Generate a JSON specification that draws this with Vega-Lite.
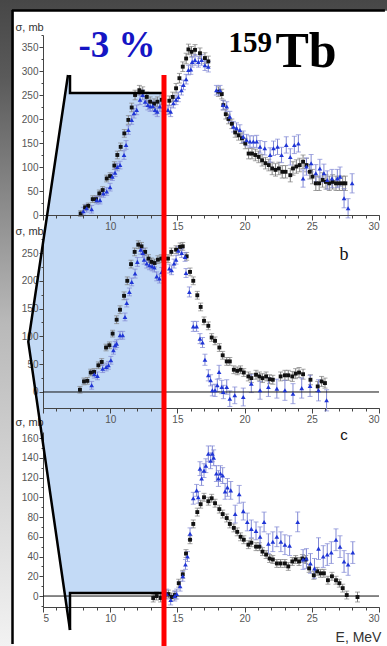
{
"$schema": "https://vega.github.io/schema/vega-lite/v6.json",
"padding": 0,
"background": "#4b4b4b",
"spacing": 24,
"bounds": "flush",
"config": {
  "view": {"stroke": null},
  "axis": {"labelFont": "Liberation Sans", "labelFontSize": 10, "labelColor": "#555", "domainColor": "#444", "tickColor": "#444", "grid": false, "titleFont": "Liberation Sans", "titleFontWeight": "normal", "titleColor": "#333", "titleFontSize": 11}
},
"datasets": {
"pts": [
{"p":1,"g":"k","E":7.8,"s":3,"e":6},{"p":1,"g":"k","E":8.13,"s":16,"e":6},{"p":1,"g":"k","E":8.37,"s":19,"e":6},{"p":1,"g":"k","E":8.7,"s":33,"e":7},{"p":1,"g":"k","E":8.95,"s":33,"e":7},{"p":1,"g":"k","E":9.19,"s":45,"e":7},{"p":1,"g":"k","E":9.44,"s":52,"e":7},{"p":1,"g":"k","E":9.74,"s":76,"e":7},{"p":1,"g":"k","E":9.99,"s":81,"e":7},{"p":1,"g":"k","E":10.31,"s":103,"e":8},{"p":1,"g":"k","E":10.53,"s":125,"e":8},{"p":1,"g":"k","E":10.78,"s":142,"e":8},{"p":1,"g":"k","E":11.05,"s":170,"e":8},{"p":1,"g":"k","E":11.35,"s":198,"e":9},{"p":1,"g":"k","E":11.6,"s":224,"e":9},{"p":1,"g":"k","E":11.85,"s":250,"e":10},{"p":1,"g":"k","E":12.17,"s":260,"e":10},{"p":1,"g":"k","E":12.42,"s":257,"e":10},{"p":1,"g":"k","E":12.72,"s":246,"e":10},{"p":1,"g":"k","E":12.97,"s":236,"e":10},{"p":1,"g":"k","E":13.26,"s":232,"e":10},{"p":1,"g":"k","E":13.51,"s":236,"e":10},{"p":1,"g":"k","E":13.83,"s":240,"e":10},{"p":1,"g":"k","E":14.4,"s":238,"e":10},{"p":1,"g":"k","E":14.65,"s":246,"e":10},{"p":1,"g":"k","E":14.9,"s":264,"e":10},{"p":1,"g":"k","E":15.15,"s":285,"e":10},{"p":1,"g":"k","E":15.4,"s":309,"e":10},{"p":1,"g":"k","E":15.65,"s":326,"e":11},{"p":1,"g":"k","E":15.82,"s":345,"e":11},{"p":1,"g":"k","E":16.05,"s":340,"e":11},{"p":1,"g":"k","E":16.31,"s":344,"e":11},{"p":1,"g":"k","E":16.68,"s":337,"e":11},{"p":1,"g":"k","E":17.05,"s":327,"e":11},{"p":1,"g":"k","E":17.3,"s":320,"e":11},{"p":1,"g":"k","E":18.05,"s":257,"e":10},{"p":1,"g":"k","E":18.3,"s":252,"e":10},{"p":1,"g":"k","E":18.42,"s":229,"e":10},{"p":1,"g":"k","E":18.6,"s":210,"e":10},{"p":1,"g":"k","E":18.8,"s":200,"e":10},{"p":1,"g":"k","E":19.05,"s":190,"e":10},{"p":1,"g":"k","E":19.3,"s":172,"e":10},{"p":1,"g":"k","E":19.55,"s":166,"e":10},{"p":1,"g":"k","E":19.8,"s":160,"e":11},{"p":1,"g":"k","E":20.05,"s":149,"e":11},{"p":1,"g":"k","E":20.3,"s":128,"e":11},{"p":1,"g":"k","E":20.55,"s":128,"e":11},{"p":1,"g":"k","E":20.8,"s":125,"e":12},{"p":1,"g":"k","E":21.05,"s":121,"e":12},{"p":1,"g":"k","E":21.3,"s":114,"e":12},{"p":1,"g":"k","E":21.55,"s":108,"e":12},{"p":1,"g":"k","E":21.8,"s":104,"e":12},{"p":1,"g":"k","E":22.05,"s":97,"e":13},{"p":1,"g":"k","E":22.3,"s":94,"e":13},{"p":1,"g":"k","E":22.55,"s":97,"e":13},{"p":1,"g":"k","E":22.8,"s":90,"e":13},{"p":1,"g":"k","E":23.05,"s":90,"e":13},{"p":1,"g":"k","E":23.4,"s":83,"e":14},{"p":1,"g":"k","E":23.6,"s":97,"e":14},{"p":1,"g":"k","E":23.85,"s":101,"e":14},{"p":1,"g":"k","E":24.1,"s":104,"e":14},{"p":1,"g":"k","E":24.35,"s":111,"e":14},{"p":1,"g":"k","E":24.6,"s":104,"e":14},{"p":1,"g":"k","E":24.85,"s":90,"e":15},{"p":1,"g":"k","E":25.05,"s":80,"e":15},{"p":1,"g":"k","E":25.3,"s":66,"e":15},{"p":1,"g":"k","E":25.55,"s":66,"e":15},{"p":1,"g":"k","E":25.8,"s":73,"e":15},{"p":1,"g":"k","E":26.05,"s":69,"e":15},{"p":1,"g":"k","E":26.3,"s":66,"e":15},{"p":1,"g":"k","E":26.55,"s":69,"e":15},{"p":1,"g":"k","E":26.8,"s":66,"e":15},{"p":1,"g":"k","E":27.05,"s":66,"e":15},{"p":1,"g":"k","E":27.3,"s":66,"e":15},{"p":1,"g":"k","E":27.5,"s":66,"e":15},
{"p":1,"g":"b","E":8.0,"s":8,"e":8},{"p":1,"g":"b","E":8.25,"s":14,"e":8},{"p":1,"g":"b","E":8.62,"s":12,"e":8},{"p":1,"g":"b","E":9.0,"s":31,"e":8},{"p":1,"g":"b","E":9.24,"s":31,"e":8},{"p":1,"g":"b","E":9.49,"s":45,"e":8},{"p":1,"g":"b","E":9.74,"s":49,"e":8},{"p":1,"g":"b","E":9.99,"s":58,"e":8},{"p":1,"g":"b","E":10.16,"s":80,"e":8},{"p":1,"g":"b","E":10.36,"s":88,"e":8},{"p":1,"g":"b","E":10.53,"s":100,"e":8},{"p":1,"g":"b","E":10.73,"s":104,"e":8},{"p":1,"g":"b","E":11.03,"s":125,"e":9},{"p":1,"g":"b","E":11.18,"s":146,"e":9},{"p":1,"g":"b","E":11.35,"s":177,"e":9},{"p":1,"g":"b","E":11.6,"s":198,"e":9},{"p":1,"g":"b","E":11.77,"s":212,"e":10},{"p":1,"g":"b","E":11.97,"s":219,"e":10},{"p":1,"g":"b","E":12.22,"s":240,"e":10},{"p":1,"g":"b","E":12.42,"s":250,"e":10},{"p":1,"g":"b","E":12.6,"s":236,"e":10},{"p":1,"g":"b","E":12.8,"s":229,"e":10},{"p":1,"g":"b","E":12.97,"s":226,"e":10},{"p":1,"g":"b","E":13.16,"s":227,"e":10},{"p":1,"g":"b","E":13.34,"s":219,"e":10},{"p":1,"g":"b","E":13.5,"s":215,"e":10},{"p":1,"g":"b","E":13.7,"s":226,"e":10},{"p":1,"g":"b","E":14.3,"s":219,"e":10},{"p":1,"g":"b","E":14.5,"s":215,"e":10},{"p":1,"g":"b","E":14.7,"s":233,"e":10},{"p":1,"g":"b","E":14.9,"s":240,"e":10},{"p":1,"g":"b","E":15.07,"s":246,"e":10},{"p":1,"g":"b","E":15.3,"s":260,"e":10},{"p":1,"g":"b","E":15.45,"s":271,"e":10},{"p":1,"g":"b","E":15.65,"s":283,"e":10},{"p":1,"g":"b","E":15.82,"s":302,"e":10},{"p":1,"g":"b","E":16.0,"s":303,"e":10},{"p":1,"g":"b","E":16.1,"s":319,"e":11},{"p":1,"g":"b","E":16.31,"s":323,"e":11},{"p":1,"g":"b","E":16.56,"s":319,"e":11},{"p":1,"g":"b","E":16.8,"s":323,"e":11},{"p":1,"g":"b","E":17.05,"s":312,"e":11},{"p":1,"g":"b","E":17.3,"s":309,"e":11},{"p":1,"g":"b","E":17.9,"s":260,"e":10},{"p":1,"g":"b","E":18.17,"s":260,"e":10},{"p":1,"g":"b","E":18.4,"s":229,"e":10},{"p":1,"g":"b","E":18.67,"s":226,"e":10},{"p":1,"g":"b","E":18.9,"s":205,"e":11},{"p":1,"g":"b","E":19.17,"s":184,"e":11},{"p":1,"g":"b","E":19.4,"s":181,"e":11},{"p":1,"g":"b","E":19.65,"s":177,"e":11},{"p":1,"g":"b","E":19.9,"s":163,"e":12},{"p":1,"g":"b","E":20.15,"s":156,"e":12},{"p":1,"g":"b","E":20.4,"s":153,"e":12},{"p":1,"g":"b","E":20.65,"s":153,"e":12},{"p":1,"g":"b","E":20.9,"s":153,"e":13},{"p":1,"g":"b","E":21.15,"s":142,"e":13},{"p":1,"g":"b","E":21.5,"s":139,"e":14},{"p":1,"g":"b","E":21.9,"s":125,"e":15},{"p":1,"g":"b","E":22.15,"s":139,"e":15},{"p":1,"g":"b","E":22.45,"s":142,"e":16},{"p":1,"g":"b","E":22.75,"s":125,"e":16},{"p":1,"g":"b","E":23.1,"s":146,"e":17},{"p":1,"g":"b","E":23.4,"s":121,"e":17},{"p":1,"g":"b","E":23.7,"s":146,"e":18},{"p":1,"g":"b","E":24.0,"s":149,"e":18},{"p":1,"g":"b","E":24.35,"s":76,"e":18},{"p":1,"g":"b","E":24.6,"s":101,"e":18},{"p":1,"g":"b","E":24.95,"s":108,"e":18},{"p":1,"g":"b","E":25.3,"s":87,"e":18},{"p":1,"g":"b","E":25.6,"s":97,"e":19},{"p":1,"g":"b","E":25.9,"s":87,"e":19},{"p":1,"g":"b","E":26.15,"s":73,"e":19},{"p":1,"g":"b","E":26.5,"s":76,"e":19},{"p":1,"g":"b","E":26.9,"s":76,"e":19},{"p":1,"g":"b","E":27.1,"s":80,"e":20},{"p":1,"g":"b","E":27.4,"s":35,"e":20},{"p":1,"g":"b","E":27.7,"s":14,"e":20},{"p":1,"g":"b","E":28.0,"s":66,"e":20},
{"p":2,"g":"k","E":7.75,"s":4,"e":6},{"p":2,"g":"k","E":8.05,"s":19,"e":6},{"p":2,"g":"k","E":8.3,"s":20,"e":6},{"p":2,"g":"k","E":8.55,"s":35,"e":6},{"p":2,"g":"k","E":8.8,"s":36,"e":6},{"p":2,"g":"k","E":9.12,"s":48,"e":6},{"p":2,"g":"k","E":9.37,"s":54,"e":6},{"p":2,"g":"k","E":9.69,"s":80,"e":6},{"p":2,"g":"k","E":9.94,"s":84,"e":6},{"p":2,"g":"k","E":10.18,"s":105,"e":6},{"p":2,"g":"k","E":10.48,"s":130,"e":7},{"p":2,"g":"k","E":10.73,"s":148,"e":7},{"p":2,"g":"k","E":11.03,"s":173,"e":7},{"p":2,"g":"k","E":11.27,"s":200,"e":7},{"p":2,"g":"k","E":11.55,"s":230,"e":7},{"p":2,"g":"k","E":11.82,"s":252,"e":7},{"p":2,"g":"k","E":12.09,"s":265,"e":7},{"p":2,"g":"k","E":12.33,"s":262,"e":7},{"p":2,"g":"k","E":12.6,"s":252,"e":7},{"p":2,"g":"k","E":12.85,"s":240,"e":7},{"p":2,"g":"k","E":13.07,"s":234,"e":7},{"p":2,"g":"k","E":13.3,"s":232,"e":7},{"p":2,"g":"k","E":13.55,"s":238,"e":7},{"p":2,"g":"k","E":13.8,"s":240,"e":7},{"p":2,"g":"k","E":14.3,"s":240,"e":7},{"p":2,"g":"k","E":14.55,"s":252,"e":7},{"p":2,"g":"k","E":14.9,"s":256,"e":7},{"p":2,"g":"k","E":15.2,"s":261,"e":7},{"p":2,"g":"k","E":15.4,"s":262,"e":7},{"p":2,"g":"k","E":15.69,"s":244,"e":7},{"p":2,"g":"k","E":15.94,"s":216,"e":7},{"p":2,"g":"k","E":16.18,"s":200,"e":7},{"p":2,"g":"k","E":16.48,"s":174,"e":7},{"p":2,"g":"k","E":16.73,"s":153,"e":7},{"p":2,"g":"k","E":16.98,"s":128,"e":7},{"p":2,"g":"k","E":17.3,"s":119,"e":7},{"p":2,"g":"k","E":17.55,"s":98,"e":7},{"p":2,"g":"k","E":17.8,"s":92,"e":7},{"p":2,"g":"k","E":18.12,"s":80,"e":7},{"p":2,"g":"k","E":18.37,"s":66,"e":7},{"p":2,"g":"k","E":18.67,"s":55,"e":7},{"p":2,"g":"k","E":18.9,"s":55,"e":7},{"p":2,"g":"k","E":19.2,"s":40,"e":7},{"p":2,"g":"k","E":19.45,"s":38,"e":7},{"p":2,"g":"k","E":19.7,"s":40,"e":7},{"p":2,"g":"k","E":19.94,"s":35,"e":7},{"p":2,"g":"k","E":20.28,"s":28,"e":8},{"p":2,"g":"k","E":20.5,"s":25,"e":8},{"p":2,"g":"k","E":20.85,"s":31,"e":8},{"p":2,"g":"k","E":21.1,"s":28,"e":8},{"p":2,"g":"k","E":21.33,"s":25,"e":8},{"p":2,"g":"k","E":21.6,"s":28,"e":8},{"p":2,"g":"k","E":21.86,"s":23,"e":8},{"p":2,"g":"k","E":22.1,"s":22,"e":8},{"p":2,"g":"k","E":22.68,"s":28,"e":8},{"p":2,"g":"k","E":23.0,"s":30,"e":9},{"p":2,"g":"k","E":23.25,"s":30,"e":9},{"p":2,"g":"k","E":23.55,"s":28,"e":9},{"p":2,"g":"k","E":23.8,"s":33,"e":9},{"p":2,"g":"k","E":24.05,"s":35,"e":9},{"p":2,"g":"k","E":24.35,"s":32,"e":9},{"p":2,"g":"k","E":24.9,"s":22,"e":9},{"p":2,"g":"k","E":25.44,"s":10,"e":9},{"p":2,"g":"k","E":25.73,"s":19,"e":9},{"p":2,"g":"k","E":25.98,"s":16,"e":9},
{"p":2,"g":"b","E":8.62,"s":12,"e":7},{"p":2,"g":"b","E":8.82,"s":32,"e":7},{"p":2,"g":"b","E":9.05,"s":29,"e":7},{"p":2,"g":"b","E":9.44,"s":42,"e":7},{"p":2,"g":"b","E":9.7,"s":45,"e":7},{"p":2,"g":"b","E":9.87,"s":48,"e":7},{"p":2,"g":"b","E":10.05,"s":57,"e":7},{"p":2,"g":"b","E":10.24,"s":75,"e":7},{"p":2,"g":"b","E":10.36,"s":84,"e":7},{"p":2,"g":"b","E":10.48,"s":87,"e":7},{"p":2,"g":"b","E":10.73,"s":102,"e":7},{"p":2,"g":"b","E":10.93,"s":102,"e":7},{"p":2,"g":"b","E":11.1,"s":135,"e":7},{"p":2,"g":"b","E":11.23,"s":160,"e":7},{"p":2,"g":"b","E":11.43,"s":180,"e":7},{"p":2,"g":"b","E":11.6,"s":198,"e":7},{"p":2,"g":"b","E":11.85,"s":213,"e":8},{"p":2,"g":"b","E":12.02,"s":234,"e":8},{"p":2,"g":"b","E":12.27,"s":256,"e":8},{"p":2,"g":"b","E":12.42,"s":250,"e":8},{"p":2,"g":"b","E":12.52,"s":238,"e":8},{"p":2,"g":"b","E":12.72,"s":231,"e":8},{"p":2,"g":"b","E":12.92,"s":228,"e":8},{"p":2,"g":"b","E":13.12,"s":226,"e":8},{"p":2,"g":"b","E":13.29,"s":224,"e":8},{"p":2,"g":"b","E":13.46,"s":208,"e":8},{"p":2,"g":"b","E":13.66,"s":204,"e":8},{"p":2,"g":"b","E":13.83,"s":216,"e":8},{"p":2,"g":"b","E":14.4,"s":222,"e":8},{"p":2,"g":"b","E":14.57,"s":219,"e":8},{"p":2,"g":"b","E":14.75,"s":231,"e":8},{"p":2,"g":"b","E":14.9,"s":238,"e":8},{"p":2,"g":"b","E":15.07,"s":254,"e":8},{"p":2,"g":"b","E":15.32,"s":250,"e":8},{"p":2,"g":"b","E":15.57,"s":243,"e":8},{"p":2,"g":"b","E":15.64,"s":214,"e":8},{"p":2,"g":"b","E":15.89,"s":180,"e":9},{"p":2,"g":"b","E":16.18,"s":118,"e":9},{"p":2,"g":"b","E":16.43,"s":118,"e":9},{"p":2,"g":"b","E":16.68,"s":96,"e":9},{"p":2,"g":"b","E":16.87,"s":89,"e":9},{"p":2,"g":"b","E":17.05,"s":58,"e":10},{"p":2,"g":"b","E":17.3,"s":30,"e":10},{"p":2,"g":"b","E":17.47,"s":21,"e":10},{"p":2,"g":"b","E":17.6,"s":3,"e":10},{"p":2,"g":"b","E":17.8,"s":3,"e":11},{"p":2,"g":"b","E":17.97,"s":12,"e":11},{"p":2,"g":"b","E":18.1,"s":36,"e":12},{"p":2,"g":"b","E":18.3,"s":9,"e":12},{"p":2,"g":"b","E":18.42,"s":0,"e":12},{"p":2,"g":"b","E":18.67,"s":9,"e":13},{"p":2,"g":"b","E":18.9,"s":-12,"e":14},{"p":2,"g":"b","E":19.27,"s":-6,"e":15},{"p":2,"g":"b","E":19.9,"s":-9,"e":16},{"p":2,"g":"b","E":20.5,"s":15,"e":16},{"p":2,"g":"b","E":21.15,"s":3,"e":16},{"p":2,"g":"b","E":21.77,"s":9,"e":17},{"p":2,"g":"b","E":22.4,"s":6,"e":17},{"p":2,"g":"b","E":23.0,"s":3,"e":18},{"p":2,"g":"b","E":23.6,"s":-3,"e":18},{"p":2,"g":"b","E":24.25,"s":7,"e":18},{"p":2,"g":"b","E":24.87,"s":11,"e":19},{"p":2,"g":"b","E":25.5,"s":3,"e":19},{"p":2,"g":"b","E":26.1,"s":-15,"e":19},
{"p":3,"g":"k","E":13.2,"s":-2,"e":4},{"p":3,"g":"k","E":13.45,"s":0,"e":4},{"p":3,"g":"k","E":13.75,"s":-2,"e":4},{"p":3,"g":"k","E":14.33,"s":2,"e":4},{"p":3,"g":"k","E":14.57,"s":-1,"e":4},{"p":3,"g":"k","E":14.82,"s":1,"e":4},{"p":3,"g":"k","E":15.1,"s":13,"e":4},{"p":3,"g":"k","E":15.4,"s":22,"e":4},{"p":3,"g":"k","E":15.64,"s":43,"e":4},{"p":3,"g":"k","E":15.94,"s":57,"e":4},{"p":3,"g":"k","E":16.18,"s":73,"e":4},{"p":3,"g":"k","E":16.48,"s":85,"e":4},{"p":3,"g":"k","E":16.73,"s":93,"e":4},{"p":3,"g":"k","E":16.98,"s":100,"e":4},{"p":3,"g":"k","E":17.3,"s":96,"e":4},{"p":3,"g":"k","E":17.55,"s":99,"e":4},{"p":3,"g":"k","E":17.8,"s":94,"e":4},{"p":3,"g":"k","E":18.12,"s":88,"e":4},{"p":3,"g":"k","E":18.37,"s":83,"e":4},{"p":3,"g":"k","E":18.67,"s":79,"e":4},{"p":3,"g":"k","E":18.9,"s":73,"e":4},{"p":3,"g":"k","E":19.2,"s":69,"e":4},{"p":3,"g":"k","E":19.45,"s":65,"e":4},{"p":3,"g":"k","E":19.7,"s":60,"e":4},{"p":3,"g":"k","E":19.94,"s":57,"e":4},{"p":3,"g":"k","E":20.28,"s":52,"e":4},{"p":3,"g":"k","E":20.5,"s":54,"e":4},{"p":3,"g":"k","E":20.85,"s":50,"e":4},{"p":3,"g":"k","E":21.1,"s":50,"e":4},{"p":3,"g":"k","E":21.33,"s":45,"e":4},{"p":3,"g":"k","E":21.6,"s":42,"e":4},{"p":3,"g":"k","E":21.86,"s":38,"e":4},{"p":3,"g":"k","E":22.1,"s":37,"e":4},{"p":3,"g":"k","E":22.4,"s":33,"e":4},{"p":3,"g":"k","E":22.68,"s":33,"e":4},{"p":3,"g":"k","E":23.0,"s":33,"e":4},{"p":3,"g":"k","E":23.25,"s":30,"e":4},{"p":3,"g":"k","E":23.55,"s":35,"e":4},{"p":3,"g":"k","E":23.8,"s":37,"e":4},{"p":3,"g":"k","E":24.05,"s":35,"e":4},{"p":3,"g":"k","E":24.3,"s":38,"e":4},{"p":3,"g":"k","E":24.55,"s":37,"e":4},{"p":3,"g":"k","E":24.8,"s":28,"e":4},{"p":3,"g":"k","E":25.15,"s":21,"e":4},{"p":3,"g":"k","E":25.4,"s":25,"e":4},{"p":3,"g":"k","E":25.65,"s":23,"e":4},{"p":3,"g":"k","E":25.9,"s":23,"e":4},{"p":3,"g":"k","E":26.2,"s":16,"e":4},{"p":3,"g":"k","E":26.5,"s":20,"e":4},{"p":3,"g":"k","E":26.8,"s":16,"e":4},{"p":3,"g":"k","E":27.05,"s":13,"e":4},{"p":3,"g":"k","E":27.3,"s":8,"e":4},{"p":3,"g":"k","E":27.6,"s":1,"e":4},{"p":3,"g":"k","E":28.4,"s":-1,"e":5},
{"p":3,"g":"b","E":14.2,"s":2,"e":5},{"p":3,"g":"b","E":14.5,"s":-4,"e":5},{"p":3,"g":"b","E":14.8,"s":0,"e":5},{"p":3,"g":"b","E":14.95,"s":2,"e":5},{"p":3,"g":"b","E":15.2,"s":10,"e":5},{"p":3,"g":"b","E":15.4,"s":20,"e":5},{"p":3,"g":"b","E":15.6,"s":32,"e":5},{"p":3,"g":"b","E":15.75,"s":40,"e":5},{"p":3,"g":"b","E":15.94,"s":63,"e":6},{"p":3,"g":"b","E":16.18,"s":99,"e":6},{"p":3,"g":"b","E":16.43,"s":107,"e":6},{"p":3,"g":"b","E":16.55,"s":100,"e":6},{"p":3,"g":"b","E":16.68,"s":129,"e":7},{"p":3,"g":"b","E":16.8,"s":119,"e":7},{"p":3,"g":"b","E":16.98,"s":127,"e":7},{"p":3,"g":"b","E":17.12,"s":132,"e":7},{"p":3,"g":"b","E":17.3,"s":144,"e":8},{"p":3,"g":"b","E":17.47,"s":137,"e":8},{"p":3,"g":"b","E":17.6,"s":144,"e":8},{"p":3,"g":"b","E":17.7,"s":140,"e":8},{"p":3,"g":"b","E":17.9,"s":124,"e":8},{"p":3,"g":"b","E":18.05,"s":119,"e":8},{"p":3,"g":"b","E":18.2,"s":124,"e":8},{"p":3,"g":"b","E":18.37,"s":122,"e":8},{"p":3,"g":"b","E":18.55,"s":106,"e":8},{"p":3,"g":"b","E":18.72,"s":110,"e":9},{"p":3,"g":"b","E":18.97,"s":107,"e":9},{"p":3,"g":"b","E":19.3,"s":83,"e":9},{"p":3,"g":"b","E":19.6,"s":103,"e":9},{"p":3,"g":"b","E":19.9,"s":86,"e":9},{"p":3,"g":"b","E":20.2,"s":75,"e":9},{"p":3,"g":"b","E":20.5,"s":68,"e":9},{"p":3,"g":"b","E":20.85,"s":66,"e":9},{"p":3,"g":"b","E":21.15,"s":60,"e":10},{"p":3,"g":"b","E":21.45,"s":75,"e":10},{"p":3,"g":"b","E":21.77,"s":53,"e":10},{"p":3,"g":"b","E":22.1,"s":55,"e":10},{"p":3,"g":"b","E":22.4,"s":60,"e":10},{"p":3,"g":"b","E":22.7,"s":55,"e":10},{"p":3,"g":"b","E":23.0,"s":52,"e":10},{"p":3,"g":"b","E":23.35,"s":51,"e":10},{"p":3,"g":"b","E":23.95,"s":75,"e":10},{"p":3,"g":"b","E":24.35,"s":37,"e":10},{"p":3,"g":"b","E":24.6,"s":38,"e":10},{"p":3,"g":"b","E":24.9,"s":33,"e":10},{"p":3,"g":"b","E":25.2,"s":28,"e":10},{"p":3,"g":"b","E":25.5,"s":48,"e":11},{"p":3,"g":"b","E":25.85,"s":40,"e":11},{"p":3,"g":"b","E":26.15,"s":42,"e":11},{"p":3,"g":"b","E":26.45,"s":44,"e":11},{"p":3,"g":"b","E":26.8,"s":57,"e":11},{"p":3,"g":"b","E":27.1,"s":50,"e":11},{"p":3,"g":"b","E":27.4,"s":35,"e":11},{"p":3,"g":"b","E":27.7,"s":32,"e":11},{"p":3,"g":"b","E":28.05,"s":44,"e":11}
],
"poly": [{"i":1,"E":6.86,"s":291.7},{"i":2,"E":7.009,"s":291.7},{"i":3,"E":7.009,"s":254.2},{"i":4,"E":14.0,"s":254.2},{"i":5,"E":14.0,"s":-787.5},{"i":6,"E":7.009,"s":-787.5},{"i":7,"E":7.009,"s":-864.6},{"i":8,"E":3.906,"s":-264.0}],
"outline": [{"seg":1,"i":1,"E":6.86,"s":527.6},{"seg":1,"i":2,"E":3.906,"s":257.5},{"seg":1,"i":3,"E":7.009,"s":-34.4},{"seg":2,"i":1,"E":7.009,"s":527.6},{"seg":2,"i":2,"E":7.009,"s":509.4},{"seg":2,"i":3,"E":13.93,"s":509.4},{"seg":3,"i":1,"E":7.009,"s":-34.4},{"seg":3,"i":2,"E":7.009,"s":3.04},{"seg":3,"i":3,"E":13.93,"s":3.04}]
},
"vconcat": [
{
 "width": 336, "height": 180,
 "resolve": {"axis": {"x": "independent", "y": "independent"}},
 "layer": [
  {"data": {"values": [{}]},
   "mark": {"type": "rect", "fill": {"gradient": "linear", "x1": 0, "y1": 0, "x2": 0, "y2": 1, "stops": [{"offset": 0, "color": "#474747"}, {"offset": 0.12, "color": "#5a5a5a"}, {"offset": 0.5, "color": "#b9b9b9"}, {"offset": 1, "color": "#f2f2f2"}]}},
   "encoding": {"x": {"datum": 1.8006, "type": "quantitative", "scale": {"domain": [5, 30], "nice": false, "zero": false}, "axis": null}, "x2": {"datum": 30.595}, "y": {"datum": 447.9, "type": "quantitative", "scale": {"domain": [0, 375], "nice": false, "zero": false}, "axis": null}, "y2": {"datum": -897.9}}},
  {"data": {"values": [{}]},
   "mark": {"type": "rect", "fill": "#ffffff"},
   "encoding": {"x": {"datum": 2.805, "type": "quantitative", "axis": null}, "x2": {"datum": 30.595}, "y": {"datum": 425.5, "type": "quantitative", "axis": null}, "y2": {"datum": -897.9}}},
  {"data": {"values": [{}]},
   "mark": {"type": "rule", "color": "#000", "strokeWidth": 2.5},
   "encoding": {"x": {"datum": 2.7307, "type": "quantitative", "axis": null}, "y": {"datum": 427.1, "type": "quantitative", "axis": null}, "y2": {"datum": -893.7}}},
  {"data": {"values": [{}]},
   "mark": {"type": "rule", "color": "#000", "strokeWidth": 2.5},
   "encoding": {"x": {"datum": 2.69, "type": "quantitative", "axis": null}, "x2": {"datum": 30.44}, "y": {"datum": 426.0, "type": "quantitative", "axis": null}}},
  {"data": {"name": "poly"},
   "mark": {"type": "line", "fill": "#c3daf6", "stroke": null, "strokeWidth": 0},
   "encoding": {"x": {"field": "E", "type": "quantitative", "axis": null}, "y": {"field": "s", "type": "quantitative", "axis": null}, "order": {"field": "i"}}},
  {"data": {"name": "pts"}, "transform": [{"filter": "datum.p == 1 && datum.g == 'k'"}],
   "mark": {"type": "errorbar", "ticks": true, "size": 5, "thickness": 1, "color": "#808080"},
   "encoding": {"x": {"field": "E", "type": "quantitative", "axis": null}, "y": {"field": "s", "type": "quantitative", "axis": null}, "yError": {"field": "e"}}},
  {"data": {"name": "pts"}, "transform": [{"filter": "datum.p == 1 && datum.g == 'b'"}],
   "mark": {"type": "errorbar", "ticks": true, "size": 5, "thickness": 1, "color": "#8088d4"},
   "encoding": {"x": {"field": "E", "type": "quantitative", "axis": null}, "y": {"field": "s", "type": "quantitative", "axis": null}, "yError": {"field": "e"}}},
  {"data": {"name": "pts"}, "transform": [{"filter": "datum.p == 1 && datum.g == 'k'"}],
   "mark": {"type": "point", "shape": "square", "filled": true, "size": 15, "color": "#111", "opacity": 1},
   "encoding": {
     "x": {"field": "E", "type": "quantitative", "scale": {"domain": [5, 30], "nice": false, "zero": false}, "axis": {"orient": "bottom", "values": [5, 10, 15, 20, 25, 30], "labelExpr": "datum.value == 5 ? '' : datum.label", "tickSize": 5, "labelPadding": 1, "title": null, "zindex": 1}},
     "y": {"field": "s", "type": "quantitative", "scale": {"domain": [0, 375], "nice": false, "zero": false}, "axis": {"orient": "left", "values": [0, 50, 100, 150, 200, 250, 300, 350], "tickSize": 4, "labelPadding": 1, "title": "σ, mb", "titleAngle": 0, "titleX": -28, "titleY": -8, "titleAlign": "left", "titleBaseline": "middle", "zindex": 1}}}},
  {"data": {"name": "pts"}, "transform": [{"filter": "datum.p == 1 && datum.g == 'b'"}],
   "mark": {"type": "point", "shape": "triangle-up", "filled": true, "size": 22, "color": "#1f35d6", "opacity": 1},
   "encoding": {
     "x": {"field": "E", "type": "quantitative", "axis": {"orient": "bottom", "values": [5,6,7,8,9,10,11,12,13,14,15,16,17,18,19,20,21,22,23,24,25,26,27,28,29,30], "labels": false, "domain": false, "tickSize": 3, "title": null, "zindex": 1}},
     "y": {"field": "s", "type": "quantitative", "axis": {"orient": "left", "values": [0, 25, 50, 75, 100, 125, 150, 175, 200, 225, 250, 275, 300, 325, 350, 375], "labels": false, "domain": false, "tickSize": 2, "title": null, "zindex": 1}}}},
  {"data": {"values": [{"t": "-3 %", "E": 10.51, "s": 329}]},
   "mark": {"type": "text", "font": "Liberation Serif", "fontWeight": "bold", "fontSize": 37, "color": "#1515c4", "align": "center", "baseline": "alphabetic"},
   "encoding": {"x": {"field": "E", "type": "quantitative", "axis": null}, "y": {"field": "s", "type": "quantitative", "axis": null}, "text": {"field": "t"}}},
  {"data": {"values": [{"t": "159", "E": 18.8, "s": 339.6}]},
   "mark": {"type": "text", "font": "Liberation Serif", "fontWeight": "bold", "fontSize": 29, "color": "#000", "align": "left", "baseline": "alphabetic"},
   "encoding": {"x": {"field": "E", "type": "quantitative", "axis": null}, "y": {"field": "s", "type": "quantitative", "axis": null}, "text": {"field": "t"}}},
  {"data": {"values": [{"t": "Tb", "E": 22.3, "s": 308.3}]},
   "mark": {"type": "text", "font": "Liberation Serif", "fontWeight": "bold", "fontSize": 50, "color": "#000", "align": "left", "baseline": "alphabetic"},
   "encoding": {"x": {"field": "E", "type": "quantitative", "axis": null}, "y": {"field": "s", "type": "quantitative", "axis": null}, "text": {"field": "t"}}}
 ]
},
{
 "width": 336, "height": 169,
 "resolve": {"axis": {"x": "independent", "y": "independent"}},
 "layer": [
  {"data": {"name": "pts"}, "transform": [{"filter": "datum.p == 2 && datum.g == 'k'"}],
   "mark": {"type": "errorbar", "ticks": true, "size": 5, "thickness": 1, "color": "#808080"},
   "encoding": {"x": {"field": "E", "type": "quantitative", "scale": {"domain": [5, 30], "nice": false, "zero": false}, "axis": null}, "y": {"field": "s", "type": "quantitative", "scale": {"domain": [-28.8, 275.2], "nice": false, "zero": false}, "axis": null}, "yError": {"field": "e"}}},
  {"data": {"name": "pts"}, "transform": [{"filter": "datum.p == 2 && datum.g == 'b'"}],
   "mark": {"type": "errorbar", "ticks": true, "size": 5, "thickness": 1, "color": "#8088d4"},
   "encoding": {"x": {"field": "E", "type": "quantitative", "axis": null}, "y": {"field": "s", "type": "quantitative", "axis": null}, "yError": {"field": "e"}}},
  {"data": {"values": [{}]},
   "mark": {"type": "rule", "color": "#111", "strokeWidth": 1},
   "encoding": {"y": {"datum": 0, "type": "quantitative", "axis": null}}},
  {"data": {"name": "pts"}, "transform": [{"filter": "datum.p == 2 && datum.g == 'k'"}],
   "mark": {"type": "point", "shape": "square", "filled": true, "size": 15, "color": "#111", "opacity": 1},
   "encoding": {
     "x": {"field": "E", "type": "quantitative", "scale": {"domain": [5, 30], "nice": false, "zero": false}, "axis": {"orient": "bottom", "values": [5, 10, 15, 20, 25, 30], "labelExpr": "datum.value == 5 ? '' : datum.label", "tickSize": 5, "labelPadding": 1, "title": null}},
     "y": {"field": "s", "type": "quantitative", "scale": {"domain": [-28.8, 275.2], "nice": false, "zero": false}, "axis": {"orient": "left", "values": [0, 50, 100, 150, 200, 250], "tickSize": 4, "labelPadding": 1, "title": "σ, mb", "titleAngle": 0, "titleX": -28, "titleY": -8, "titleAlign": "left", "titleBaseline": "middle"}}}},
  {"data": {"name": "pts"}, "transform": [{"filter": "datum.p == 2 && datum.g == 'b'"}],
   "mark": {"type": "point", "shape": "triangle-up", "filled": true, "size": 22, "color": "#1f35d6", "opacity": 1},
   "encoding": {
     "x": {"field": "E", "type": "quantitative", "axis": {"orient": "bottom", "values": [5,6,7,8,9,10,11,12,13,14,15,16,17,18,19,20,21,22,23,24,25,26,27,28,29,30], "labels": false, "domain": false, "tickSize": 3, "title": null}},
     "y": {"field": "s", "type": "quantitative", "axis": {"orient": "left", "values": [0, 25, 50, 75, 100, 125, 150, 175, 200, 225, 250, 275], "labels": false, "domain": false, "tickSize": 2, "title": null}}}},
  {"data": {"values": [{"t": "b", "E": 27.4, "s": 246.4}]},
   "mark": {"type": "text", "font": "Liberation Serif", "fontSize": 18, "color": "#111", "align": "center", "baseline": "middle"},
   "encoding": {"x": {"field": "E", "type": "quantitative", "axis": null}, "y": {"field": "s", "type": "quantitative", "axis": null}, "text": {"field": "t"}}}
 ]
},
{
 "width": 336, "height": 175,
 "resolve": {"axis": {"x": "independent", "y": "independent"}},
 "layer": [
  {"data": {"name": "pts"}, "transform": [{"filter": "datum.p == 3 && datum.g == 'k'"}],
   "mark": {"type": "errorbar", "ticks": true, "size": 5, "thickness": 1, "color": "#808080"},
   "encoding": {"x": {"field": "E", "type": "quantitative", "scale": {"domain": [5, 30], "nice": false, "zero": false}, "axis": null}, "y": {"field": "s", "type": "quantitative", "scale": {"domain": [-11.1, 166.1], "nice": false, "zero": false}, "axis": null}, "yError": {"field": "e"}}},
  {"data": {"name": "pts"}, "transform": [{"filter": "datum.p == 3 && datum.g == 'b'"}],
   "mark": {"type": "errorbar", "ticks": true, "size": 5, "thickness": 1, "color": "#8088d4"},
   "encoding": {"x": {"field": "E", "type": "quantitative", "axis": null}, "y": {"field": "s", "type": "quantitative", "axis": null}, "yError": {"field": "e"}}},
  {"data": {"values": [{}]},
   "mark": {"type": "rule", "color": "#111", "strokeWidth": 1},
   "encoding": {"y": {"datum": 0, "type": "quantitative", "axis": null}}},
  {"data": {"name": "pts"}, "transform": [{"filter": "datum.p == 3 && datum.g == 'k'"}],
   "mark": {"type": "point", "shape": "square", "filled": true, "size": 15, "color": "#111", "opacity": 1},
   "encoding": {
     "x": {"field": "E", "type": "quantitative", "scale": {"domain": [5, 30], "nice": false, "zero": false}, "axis": {"orient": "bottom", "values": [5, 10, 15, 20, 25, 30], "tickSize": 5, "labelPadding": 1, "title": "E, MeV", "titleX": 315, "titleY": 30, "titleAlign": "center", "titleBaseline": "middle", "titleFontSize": 14}},
     "y": {"field": "s", "type": "quantitative", "scale": {"domain": [-11.1, 166.1], "nice": false, "zero": false}, "axis": {"orient": "left", "values": [0, 20, 40, 60, 80, 100, 120, 140, 160], "tickSize": 4, "labelPadding": 1, "title": "σ, mb", "titleAngle": 0, "titleX": -28, "titleY": -10, "titleAlign": "left", "titleBaseline": "middle"}}}},
  {"data": {"name": "pts"}, "transform": [{"filter": "datum.p == 3 && datum.g == 'b'"}],
   "mark": {"type": "point", "shape": "triangle-up", "filled": true, "size": 22, "color": "#1f35d6", "opacity": 1},
   "encoding": {
     "x": {"field": "E", "type": "quantitative", "axis": {"orient": "bottom", "values": [5,6,7,8,9,10,11,12,13,14,15,16,17,18,19,20,21,22,23,24,25,26,27,28,29,30], "labels": false, "domain": false, "tickSize": 3, "title": null}},
     "y": {"field": "s", "type": "quantitative", "axis": {"orient": "left", "values": [-10, 0, 10, 20, 30, 40, 50, 60, 70, 80, 90, 100, 110, 120, 130, 140, 150, 160], "labels": false, "domain": false, "tickSize": 2, "title": null}}}},
  {"data": {"values": [{"t": "c", "E": 27.4, "s": 163}]},
   "mark": {"type": "text", "font": "Liberation Sans", "fontSize": 15, "color": "#111", "align": "center", "baseline": "middle"},
   "encoding": {"x": {"field": "E", "type": "quantitative", "axis": null}, "y": {"field": "s", "type": "quantitative", "axis": null}, "text": {"field": "t"}}},
  {"data": {"name": "outline"},
   "mark": {"type": "line", "color": "#000", "strokeWidth": 2.5, "strokeJoin": "miter"},
   "encoding": {"x": {"field": "E", "type": "quantitative", "axis": null}, "y": {"field": "s", "type": "quantitative", "axis": null}, "detail": {"field": "seg"}, "order": {"field": "i"}}},
  {"data": {"values": [{}]},
   "mark": {"type": "rect", "fill": "#ff0000"},
   "encoding": {"x": {"datum": 13.817, "type": "quantitative", "axis": null}, "x2": {"datum": 14.189}, "y": {"datum": 527.6, "type": "quantitative", "axis": null}, "y2": {"datum": -50.6}}}
 ]
}
]
}
